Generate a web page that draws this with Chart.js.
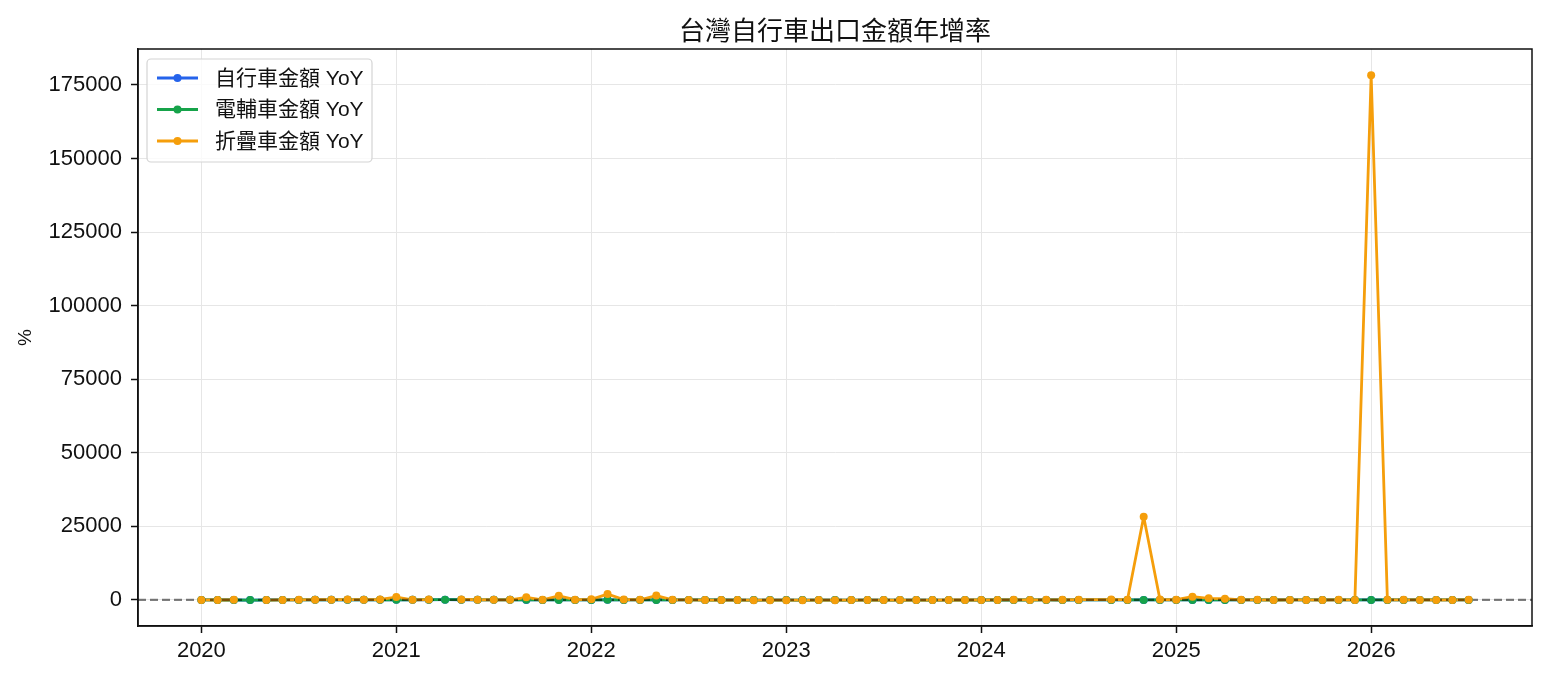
<!DOCTYPE html>
<html>
<head>
<meta charset="utf-8">
<script src="https://cdn.jsdelivr.net/npm/chart.js@4.4.1/dist/chart.umd.min.js"></script>
<style>
  html, body { margin: 0; padding: 0; background: #fff; }
</style>
</head>
<body>
<canvas id="chart" width="1546" height="677"></canvas>
<script>
// months in the source (2024-08 is absent from the data)
const months = [
  '2020-01','2020-02','2020-03','2020-04','2020-05','2020-06','2020-07','2020-08','2020-09','2020-10','2020-11','2020-12',
  '2021-01','2021-02','2021-03','2021-04','2021-05','2021-06','2021-07','2021-08','2021-09','2021-10','2021-11','2021-12',
  '2022-01','2022-02','2022-03','2022-04','2022-05','2022-06','2022-07','2022-08','2022-09','2022-10','2022-11','2022-12',
  '2023-01','2023-02','2023-03','2023-04','2023-05','2023-06','2023-07','2023-08','2023-09','2023-10','2023-11','2023-12',
  '2024-01','2024-02','2024-03','2024-04','2024-05','2024-06','2024-07','2024-09','2024-10','2024-11','2024-12',
  '2025-01','2025-02','2025-03','2025-04','2025-05','2025-06','2025-07','2025-08','2025-09','2025-10','2025-11','2025-12',
  '2026-01','2026-02','2026-03','2026-04','2026-05','2026-06','2026-07'
];

const chartTitle = '台灣自行車出口金額年增率';
const seriesNames = ['自行車金額 YoY', '電輔車金額 YoY', '折疊車金額 YoY'];
const seriesColors = ['#2563eb', '#16a34a', '#f59e0b'];

// YoY % values
const bikeYoY = [
  -5, 10, -15, -30, -20, 12, 25, 35, 40, 45, 38, 50,
  55, 30, 60, 90, 70, 48, 35, 30, 25, 22, 28, 15,
  20, 35, 18, 10, 5, 12, 8, -2, -10, -25, -30, -35,
  -40, -45, -50, -55, -52, -48, -50, -45, -40, -38, -30, -25,
  -20, -10, -15, -5, 0, -8, 5, 8, 12, 6, 15,
  10, 18, 5, -3, 8, 12, -5, 2, 6, -2, 4, 9,
  12, 5, 8, -4, 6, 3, -2
];
const ebikeYoY = [
  8, -12, -20, -35, -28, 5, 18, 30, 42, 55, 60, 48,
  70, 45, 80, 110, 85, 60, 40, 35, 30, 18, 20, 12,
  15, 28, 10, 4, -6, 2, -5, -12, -20, -30, -38, -42,
  -45, -50, -55, -58, -54, -50, -52, -48, -44, -40, -35, -28,
  -22, -15, -18, -8, -4, -10, 2, 6, 10, 4, 12,
  8, 15, 3, -6, 5, 10, -8, 0, 4, -4, 2, 7,
  10, 3, 6, -6, 4, 1, -4
];
const foldYoY = [
  5, -12, 30, null, -45, 20, 60, 110, 85, 140, 95, 160,
  1000, 40, 120, null, 180, 75, 55, 30, 900, 65, 1400, 90,
  210, 2000, 150, 45, 1500, 60, 20, -30, -55, -40, -60, -70,
  -65, -72, -58, -60, -48, -52, -45, -38, -30, -25, -20, -15,
  -10, 25, 40, 15, 60, 35, 80, 120, 95, 28300, 140,
  70, 1100, 550, 450, 40, 30, -20, 15, 25, -10, 35, 20,
  178300, 60, 45, 10, -15, 25, 30
];

const yearTicks = [2020, 2021, 2022, 2023, 2024, 2025, 2026];
const yTicks = [0, 25000, 50000, 75000, 100000, 125000, 150000, 175000];

const toX = s => Number(s.slice(0, 4)) + (Number(s.slice(5, 7)) - 1) / 12;
const toPoints = vals => months.map((m, i) => ({ x: toX(m), y: vals[i] }));

const allSeries = [bikeYoY, ebikeYoY, foldYoY];
const tickFont = { family: '"Liberation Sans", "Noto Sans CJK TC", sans-serif', size: 22 };
const legendFontStr = '21px "Liberation Sans", "Noto Sans CJK TC", sans-serif';
const titleFontStr = '26px "Noto Sans CJK TC", sans-serif';

const datasets = [];
// lines first (drawn under), higher order drawn earlier
allSeries.forEach((vals, i) => {
  datasets.push({
    id: 'line' + i,
    label: seriesNames[i],
    data: toPoints(vals),
    borderColor: seriesColors[i],
    borderWidth: 2.8,
    borderJoinStyle: 'round',
    borderCapStyle: 'round',
    pointRadius: 0,
    fill: false,
    spanGaps: false,
    order: 6 - i
  });
});
allSeries.forEach((vals, i) => {
  datasets.push({
    id: 'pts' + i,
    label: seriesNames[i],
    data: toPoints(vals),
    showLine: false,
    pointRadius: 4,
    pointBorderWidth: 0,
    pointBackgroundColor: seriesColors[i],
    borderColor: seriesColors[i],
    order: 3 - i
  });
});

// dashed zero line, drawn over the lines but under the markers
const zeroLine = {
  id: 'zeroLine',
  afterDatasetDraw(chart, args) {
    if (chart.data.datasets[args.index].id !== 'line2') return;
    const { ctx, chartArea } = chart;
    const y0 = chart.scales.y.getPixelForValue(0);
    ctx.save();
    ctx.beginPath();
    ctx.setLineDash([8, 4]);
    ctx.lineWidth = 2.2;
    ctx.strokeStyle = 'rgba(0,0,0,0.5)';
    ctx.moveTo(chartArea.left, y0);
    ctx.lineTo(chartArea.right, y0);
    ctx.stroke();
    ctx.restore();
  }
};

// box round the plot, plus title centred over it
const frame = {
  id: 'frame',
  afterDraw(chart) {
    const { ctx, chartArea } = chart;
    ctx.save();
    ctx.lineWidth = 1.5;
    ctx.strokeStyle = '#111';
    ctx.strokeRect(chartArea.left, chartArea.top, chartArea.right - chartArea.left, chartArea.bottom - chartArea.top);
    ctx.fillStyle = '#111';
    ctx.font = titleFontStr;
    ctx.textAlign = 'center';
    ctx.textBaseline = 'middle';
    ctx.fillText(chartTitle, (chartArea.left + chartArea.right) / 2, 30);
    ctx.restore();
  }
};

// legend inside the plot, top left
const innerLegend = {
  id: 'innerLegend',
  afterDraw(chart) {
    const { ctx, chartArea } = chart;
    const bx = chartArea.left + 9, by = chartArea.top + 10;
    const bw = 225, bh = 103;
    ctx.save();
    ctx.beginPath();
    ctx.roundRect(bx, by, bw, bh, 4);
    ctx.fillStyle = 'rgba(255,255,255,0.8)';
    ctx.fill();
    ctx.lineWidth = 1.2;
    ctx.strokeStyle = '#d4d4d4';
    ctx.stroke();
    seriesNames.forEach((name, i) => {
      const y = by + 19 + i * 31.5;
      ctx.beginPath();
      ctx.setLineDash([]);
      ctx.lineWidth = 2.8;
      ctx.strokeStyle = seriesColors[i];
      ctx.moveTo(bx + 10, y);
      ctx.lineTo(bx + 51, y);
      ctx.stroke();
      ctx.beginPath();
      ctx.fillStyle = seriesColors[i];
      ctx.arc(bx + 30.5, y, 4, 0, Math.PI * 2);
      ctx.fill();
      ctx.fillStyle = '#111';
      ctx.font = legendFontStr;
      ctx.textBaseline = 'middle';
      ctx.textAlign = 'left';
      ctx.fillText(name, bx + 68, y + 1);
    });
    ctx.restore();
  }
};

new Chart(document.getElementById('chart'), {
  type: 'line',
  data: { datasets: datasets },
  options: {
    responsive: false,
    animation: false,
    devicePixelRatio: 1,
    layout: { padding: { left: 0, right: 14, top: 49, bottom: 0 } },
    plugins: {
      legend: { display: false },
      tooltip: { enabled: false },
      title: { display: false }
    },
    scales: {
      x: {
        type: 'linear',
        min: 2020 - 3.9 / 12,
        max: 2026.5 + 3.9 / 12,
        afterBuildTicks: s => { s.ticks = yearTicks.map(v => ({ value: v })); },
        afterFit: s => { s.height = 51; },
        ticks: {
          callback: v => String(v),
          color: '#111',
          font: tickFont,
          padding: 5,
          maxRotation: 0,
          autoSkip: false
        },
        grid: { color: '#e6e6e6', lineWidth: 1, tickColor: '#111', tickLength: 7, tickWidth: 1.5 },
        border: { display: true, color: '#111', width: 1.5 }
      },
      y: {
        type: 'linear',
        min: -8850,
        max: 187200,
        afterBuildTicks: s => { s.ticks = yTicks.map(v => ({ value: v })); },
        afterFit: s => { s.width = 138; },
        ticks: {
          callback: v => String(v),
          color: '#111',
          font: tickFont,
          padding: 9
        },
        title: {
          display: true,
          text: '%',
          color: '#111',
          font: { family: '"Liberation Sans", sans-serif', size: 19 },
          padding: { top: 14, bottom: 0 }
        },
        grid: { color: '#e6e6e6', lineWidth: 1, tickColor: '#111', tickLength: 7, tickWidth: 1.5 },
        border: { display: true, color: '#111', width: 1.5 }
      }
    }
  },
  plugins: [zeroLine, frame, innerLegend]
});
</script>
</body>
</html>
